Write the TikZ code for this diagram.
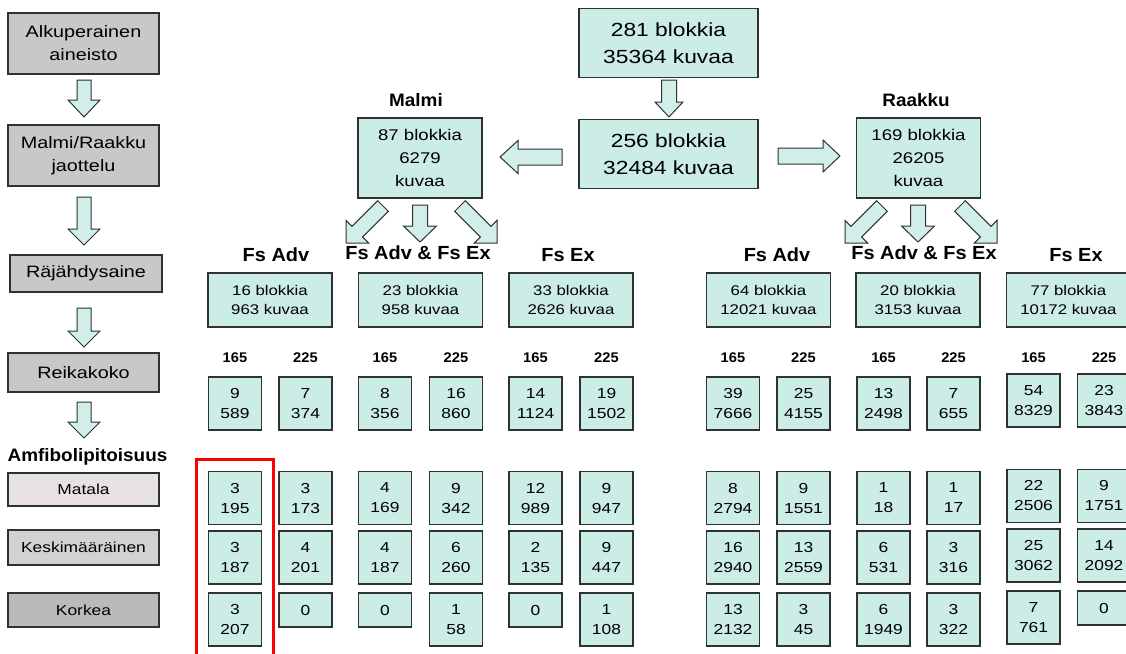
\documentclass[tikz,border=0pt]{standalone}
\usepackage{fontspec}
\setmainfont{Liberation Sans}[FakeStretch=1.2]
\newfontfamily\hdr{Liberation Sans}[FakeStretch=1.05]
\usetikzlibrary{calc}
\definecolor{boxc}{RGB}{204,236,230}
\definecolor{arrc}{RGB}{210,238,232}
\definecolor{bord}{RGB}{45,50,50}
\definecolor{grayA}{RGB}{200,200,200}
\definecolor{grayL}{RGB}{232,226,228}
\definecolor{grayM}{RGB}{210,210,210}
\definecolor{grayD}{RGB}{186,186,186}
\newcommand{\blkarrow}[5]{%
  \path ($(#2)!#5!(#1)$) coordinate (bc);
  \draw[barrowstyle] ($(#1)!#3!90:(#2)$) -- ($(bc)!#3!-90:(#1)$) -- ($(bc)!#4!-90:(#1)$) -- (#2) -- ($(bc)!#4!90:(#1)$) -- ($(bc)!#3!90:(#1)$) -- ($(#1)!#3!-90:(#2)$) -- cycle;}
\tikzset{
  cy/.style={draw=bord, line width=1.4pt, fill=boxc, inner sep=0pt, align=center},
  gy/.style={draw=bord, line width=1.4pt, fill=grayA, inner sep=0pt, align=center, minimum width=151pt},
  topbox/.style={cy, minimum width=179pt, minimum height=69pt, font=\fontsize{19}{27.4}\selectfont},
  midbox/.style={cy, minimum width=124pt, minimum height=80pt, font=\fontsize{15.5}{23}\selectfont},
  grp/.style={cy, minimum width=124pt, minimum height=54pt, font=\fontsize{14}{19.5}\selectfont},
  sm/.style={cy, minimum width=53pt, minimum height=53pt, font=\fontsize{14.5}{20}\selectfont},
  zr/.style={cy, minimum width=53pt, minimum height=34pt, font=\fontsize{14.5}{20}\selectfont},
  lefttxt/.style={font=\fontsize{16.5}{23}\selectfont},
  lowtxt/.style={font=\fontsize{14.5}{18}\selectfont},
  hd/.style={font=\hdr\bfseries\fontsize{19}{22}\selectfont},
  hm/.style={font=\hdr\bfseries\fontsize{18}{22}\selectfont},
  num/.style={font=\hdr\bfseries\fontsize{14}{16}\selectfont},
  barrowstyle/.style={draw=bord, line width=1pt, fill=arrc, line join=miter},
  redbox/.style={draw=red, line width=3pt}
}
\begin{document}
\begin{tikzpicture}[x=1pt,y=-1pt]
\useasboundingbox (0,0) rectangle (1126,653);
\fill[white] (0,0) rectangle (1126,653);
\clip (0,0) rectangle (1126,653);

% ---------- left column ----------
\node[gy, lefttxt, minimum height=61pt] (l1) at (83.5,43.5) {Alkuperainen\\aineisto};
\node[gy, lefttxt, minimum height=61pt] (l2) at (83.5,155.5) {Malmi/Raakku\\jaottelu};
\node[gy, lefttxt, minimum height=37pt, minimum width=152pt] (l3) at (86,273.5) {Räjähdysaine};
\node[gy, lefttxt, minimum height=39pt] (l4) at (83.5,372.5) {Reikakoko};
\node[hm] (amf) at (87.5,457) {Amfibolipitoisuus};
\node[gy, lowtxt, fill=grayL, minimum height=33pt] (l5) at (83.5,489.5) {Matala};
\node[gy, lowtxt, fill=grayM, minimum height=35pt] (l6) at (83.5,547.5) {Keskimääräinen};
\node[gy, lowtxt, fill=grayD, minimum height=34pt] (l7) at (83.5,610) {Korkea};

\coordinate (a1s) at (84,80);  \coordinate (a1e) at (84,117);
\coordinate (a2s) at (84,197); \coordinate (a2e) at (84,245);
\coordinate (a3s) at (84,308); \coordinate (a3e) at (84,347);
\coordinate (a4s) at (84,402); \coordinate (a4e) at (84,438);
\blkarrow{a1s}{a1e}{7pt}{16pt}{17pt}
\blkarrow{a2s}{a2e}{7pt}{16pt}{16pt}
\blkarrow{a3s}{a3e}{7pt}{16pt}{16pt}
\blkarrow{a4s}{a4e}{7pt}{16pt}{16pt}

% ---------- top ----------
\node[topbox] (top1) at (668.5,43) {281 blokkia\\35364 kuvaa};
\node[topbox] (top2) at (668.5,154) {256 blokkia\\32484 kuvaa};
\coordinate (t1s) at (669,80); \coordinate (t1e) at (669,117);
\blkarrow{t1s}{t1e}{7.5pt}{14pt}{15pt}

\node[hm] (hmalmi) at (416,100) {Malmi};
\node[hm] (hraakku) at (916,100) {Raakku};
\node[midbox] (malmi) at (420,158) {87 blokkia\\6279\\kuvaa};
\node[midbox] (raakku) at (918.5,158) {169 blokkia\\26205\\kuvaa};

\coordinate (hls) at (562,157); \coordinate (hle) at (500,157);
\coordinate (hrs) at (778,156); \coordinate (hre) at (840,156);
\blkarrow{hls}{hle}{8pt}{16.5pt}{18pt}
\blkarrow{hrs}{hre}{8pt}{16pt}{17pt}

\coordinate (md1s) at (383,206); \coordinate (md1e) at (346,243);
\coordinate (md2s) at (420,205); \coordinate (md2e) at (420,242);
\coordinate (md3s) at (460,206); \coordinate (md3e) at (497,243);
\coordinate (rd1s) at (882,206); \coordinate (rd1e) at (845,243);
\coordinate (rd2s) at (918,205); \coordinate (rd2e) at (918,242);
\coordinate (rd3s) at (960,206); \coordinate (rd3e) at (997,243);
\blkarrow{md1s}{md1e}{7.5pt}{16pt}{16pt}
\blkarrow{md2s}{md2e}{7.5pt}{16.5pt}{16pt}
\blkarrow{md3s}{md3e}{7.5pt}{16pt}{16pt}
\blkarrow{rd1s}{rd1e}{7.5pt}{16pt}{16pt}
\blkarrow{rd2s}{rd2e}{7.5pt}{16.5pt}{16pt}
\blkarrow{rd3s}{rd3e}{7.5pt}{16pt}{16pt}

% ---------- group headers and boxes ----------
\node[hd] (h1) at (276,255) {Fs Adv};
\node[hd] (h2) at (418,253) {Fs Adv \& Fs Ex};
\node[hd] (h3) at (568,255) {Fs Ex};
\node[hd] (h4) at (777,255) {Fs Adv};
\node[hd] (h5) at (924,253) {Fs Adv \& Fs Ex};
\node[hd] (h6) at (1076,255) {Fs Ex};

\node[grp] (g1) at (270,300) {16 blokkia\\963 kuvaa};
\node[grp] (g2) at (420.5,300) {23 blokkia\\958 kuvaa};
\node[grp] (g3) at (571,300) {33 blokkia\\2626 kuvaa};
\node[grp] (g4) at (768.5,300) {64 blokkia\\12021 kuvaa};
\node[grp] (g5) at (918,300) {20 blokkia\\3153 kuvaa};
\node[grp] (g6) at (1068.5,300) {77 blokkia\\10172 kuvaa};

% ---------- hole size labels ----------
\foreach \x/\t [count=\i] in {235/165,305.5/225,385/165,456/225,535.5/165,606.5/225,733/165,803.5/225,883.5/165,953.5/225,1033.5/165,1104/225}
  \node[num] (n\i) at (\x,358) {\t};

% ---------- hole size boxes ----------
\node[sm] (s1) at (235,403.5) {9\\589};
\node[sm] (s2) at (305.5,403.5) {7\\374};
\node[sm] (s3) at (385,403.5) {8\\356};
\node[sm] (s4) at (456,403.5) {16\\860};
\node[sm] (s5) at (535.5,403.5) {14\\1124};
\node[sm] (s6) at (606.5,403.5) {19\\1502};
\node[sm] (s7) at (733,403.5) {39\\7666};
\node[sm] (s8) at (803.5,403.5) {25\\4155};
\node[sm] (s9) at (883.5,403.5) {13\\2498};
\node[sm] (s10) at (953.5,403.5) {7\\655};
\node[sm] (s11) at (1033.5,400.5) {54\\8329};
\node[sm] (s12) at (1104,400.5) {23\\3843};

% ---------- amphibole rows: Malmi ----------
\node[sm] (b1a) at (235,498) {3\\195};
\node[sm] (b1b) at (235,557.5) {3\\187};
\node[sm] (b1c) at (235,619.5) {3\\207};
\node[sm] (b2a) at (305.5,498) {3\\173};
\node[sm] (b2b) at (305.5,557.5) {4\\201};
\node[zr] (b2c) at (305.5,610) {0};
\node[sm] (b3a) at (385,498) {4\\169};
\node[sm] (b3b) at (385,557.5) {4\\187};
\node[zr] (b3c) at (385,610) {0};
\node[sm] (b4a) at (456,498) {9\\342};
\node[sm] (b4b) at (456,557.5) {6\\260};
\node[sm] (b4c) at (456,619.5) {1\\58};
\node[sm] (b5a) at (535.5,498) {12\\989};
\node[sm] (b5b) at (535.5,557.5) {2\\135};
\node[zr] (b5c) at (535.5,610) {0};
\node[sm] (b6a) at (606.5,498) {9\\947};
\node[sm] (b6b) at (606.5,557.5) {9\\447};
\node[sm] (b6c) at (606.5,619.5) {1\\108};

% ---------- amphibole rows: Raakku ----------
\node[sm] (b7a) at (733,498) {8\\2794};
\node[sm] (b7b) at (733,557.5) {16\\2940};
\node[sm] (b7c) at (733,619.5) {13\\2132};
\node[sm] (b8a) at (803.5,498) {9\\1551};
\node[sm] (b8b) at (803.5,557.5) {13\\2559};
\node[sm] (b8c) at (803.5,619.5) {3\\45};
\node[sm] (b9a) at (883.5,498) {1\\18};
\node[sm] (b9b) at (883.5,557.5) {6\\531};
\node[sm] (b9c) at (883.5,619.5) {6\\1949};
\node[sm] (b10a) at (953.5,498) {1\\17};
\node[sm] (b10b) at (953.5,557.5) {3\\316};
\node[sm] (b10c) at (953.5,619.5) {3\\322};
\node[sm] (b11a) at (1033.5,496) {22\\2506};
\node[sm] (b11b) at (1033.5,555.5) {25\\3062};
\node[sm] (b11c) at (1033.5,617.5) {7\\761};
\node[sm] (b12a) at (1104,496) {9\\1751};
\node[sm] (b12b) at (1104,555.5) {14\\2092};
\node[zr] (b12c) at (1104,608) {0};

% ---------- red highlight ----------
\draw[redbox] (196,700) -- (196,459) -- (273,459) -- (273,700);
\end{tikzpicture}
\end{document}
